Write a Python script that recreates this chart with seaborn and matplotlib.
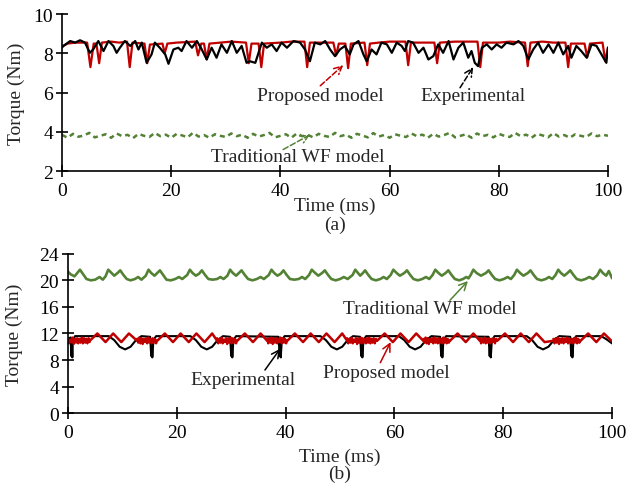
import numpy as np
import pandas as pd
import matplotlib
matplotlib.use("Agg")
import matplotlib.pyplot as plt
import seaborn as sns

# ---------------- (a) torque traces, time in ms, torque in Nm
exp_a_t = [0, 0.25, 1.5, 2.4, 3.3, 4.2, 5.1, 5.7, 6.65, 7.6,
           8.5, 9.4, 10.0, 10.6, 11.5, 12.5, 13.4, 14.0, 14.6, 15.5,
           16.4, 17.0, 17.9, 18.9, 19.5, 20.4, 21.3, 21.9, 22.8, 23.8,
           24.7, 25.6, 26.5, 27.4, 28.3, 29.2, 30.2, 31.1, 32.0, 32.9,
           33.8, 34.4,
           35.4, 36.6, 37.5, 38.4, 39.3, 40.2, 41.2, 42.4, 43.6, 44.5,
           45.4, 46.3, 47.3, 48.2, 49.1, 50.0, 50.9, 51.8, 52.7, 53.4,
           54.3, 55.2, 55.8, 56.7, 57.6, 58.5, 59.5, 60.4, 61.3, 62.2,
           62.8, 63.4, 64.3, 65.3, 66.2, 67.1,
           68.0, 68.9, 69.8, 70.8, 71.7, 72.6, 73.5, 74.4, 75.0, 75.6,
           76.2, 76.9, 77.8, 78.7, 79.6, 80.5, 81.4, 82.7, 83.6, 84.5,
           85.4, 86.3, 87.2, 88.1, 89.1, 90.0, 90.9, 91.8, 92.7, 93.3,
           94.2, 95.1, 96.1, 97.0, 97.9, 98.8, 99.7, 100]
exp_a_v = [8.3, 8.38, 8.63, 8.55, 8.67, 8.55, 8.03, 8.2, 8.63, 8.12,
           8.63, 8.38, 8.03, 8.29, 8.63, 8.38, 8.63, 8.2, 8.55, 7.52,
           7.95, 8.55, 8.29, 7.95, 7.47, 8.2, 8.29, 8.12, 8.63, 8.29,
           8.63, 8.2, 7.69, 8.29, 7.78, 8.46, 8.03, 8.63, 8.03, 8.38,
           7.52, 7.6,
           7.52, 8.55, 8.29, 8.46, 8.12, 8.55, 8.29, 8.63, 8.55, 8.2,
           7.6, 8.55, 8.46, 8.63, 8.2, 7.86, 8.2, 8.38, 7.95, 8.46,
           8.63, 7.95, 7.6, 8.2, 7.95, 8.55, 8.46, 8.03, 8.55, 8.38,
           8.12, 8.63, 8.55, 8.03, 8.29, 7.69,
           7.86, 8.46, 8.03, 8.63, 7.69, 8.29, 8.55, 7.78, 8.12, 7.52,
           7.35, 8.29, 8.46, 8.2, 8.46, 8.29, 8.55, 8.46, 8.63, 8.38,
           7.69, 8.2, 8.55, 8.03, 8.46, 8.03, 8.55, 7.95, 8.38, 7.78,
           8.38, 8.12, 7.78, 8.46, 8.38, 7.95, 7.52, 8.3]

prop_a_t = [0, 1.0, 2.5, 4.6, 5.2, 5.8, 6.3, 6.8, 7.3, 9.0,
            10.5, 11.9, 12.4, 12.9, 15.1, 15.6, 16.1, 18.4, 18.8, 19.3,
            21.0, 24.4, 24.9, 25.5, 26.0, 26.5, 27.0, 29.0, 31.0, 33.7,
            34.2, 34.7, 36.0, 36.5, 37.0, 40.0, 42.0, 44.4, 44.9, 45.4,
            48.0, 49.7, 50.2, 50.7, 51.9, 52.4, 52.9, 55.4, 55.9, 56.4,
            58.0, 60.0, 62.9, 63.4, 63.9, 66.0, 68.2, 68.7, 69.2, 72.0,
            76.1, 76.6, 77.1, 80.0, 82.0, 84.8, 85.3, 85.8, 88.0, 90.0,
            92.2, 92.7, 93.2, 95.7, 96.2, 96.7, 99.0, 99.5, 100]
prop_a_v = [8.35, 8.5, 8.55, 8.55, 7.3, 8.5, 8.5, 7.5, 8.55, 8.6,
            8.55, 8.6, 7.3, 8.55, 8.5, 7.5, 8.45, 8.5, 8.0, 8.5,
            8.55, 8.6, 7.9, 8.5, 8.5, 7.7, 8.5, 8.55, 8.6, 8.55,
            7.5, 8.5, 8.5, 7.3, 8.5, 8.55, 8.6, 8.6, 7.3, 8.55,
            8.55, 8.55, 7.9, 8.5, 8.5, 7.25, 8.5, 8.55, 7.4, 8.5,
            8.55, 8.6, 8.6, 7.4, 8.55, 8.55, 8.55, 7.5, 8.55, 8.6,
            8.6, 7.3, 8.55, 8.55, 8.6, 8.55, 7.35, 8.55, 8.6, 8.55,
            8.55, 7.3, 8.5, 8.5, 7.8, 8.5, 8.55, 7.6, 8.3]

# traditional WF model, one value per ms (0..100)
wf_a_v = [3.85, 3.7, 3.9, 3.75, 3.82, 3.95, 3.72, 3.8, 3.88, 3.7,
          3.92, 3.78, 3.85, 3.68, 3.9, 3.8, 3.74, 3.95, 3.78, 3.86,
          3.7, 3.9, 3.82, 3.72, 3.96, 3.76, 3.84, 3.7, 3.88, 3.8,
          3.74, 3.92, 3.78, 3.86, 3.7, 3.9, 3.76, 3.84, 3.95, 3.72,
          3.8, 3.88, 3.7, 3.92, 3.78, 3.85, 3.72, 3.9, 3.8, 3.74,
          3.95, 3.78, 3.86, 3.7, 3.9, 3.82, 3.72, 3.94, 3.76, 3.84,
          3.7, 3.88, 3.8, 3.74, 3.92, 3.78, 3.86, 3.7, 3.9, 3.76,
          3.84, 3.95, 3.72, 3.8, 3.88, 3.7, 3.92, 3.78, 3.85, 3.72,
          3.9, 3.8, 3.74, 3.95, 3.78, 3.86, 3.7, 3.9, 3.82, 3.72,
          3.94, 3.76, 3.84, 3.7, 3.88, 3.8, 3.74, 3.92, 3.78, 3.86, 3.8]
wf_a_t = np.arange(len(wf_a_v))

# ---------------- (b)
wf_b_t = [0, 0.5, 1.2, 2.2, 2.8, 3.4, 4.2, 5.0, 5.8, 6.4,
          6.9, 7.4, 7.9, 8.5, 9.1, 9.6, 10.2, 10.8, 11.5, 12.3, 12.9, 13.5, 14.3,
          14.8, 15.3, 15.9, 16.4, 16.9, 17.5, 18.1, 18.9, 19.7, 20.4, 21.0, 21.9,
          22.4, 22.9, 23.5, 24.1, 24.6, 25.2, 25.8, 26.6, 27.4, 28.0, 28.6, 29.3,
          29.8, 30.3, 30.9, 31.4, 31.9, 32.5, 33.1, 33.9, 34.7, 35.4, 36.0, 36.9,
          37.4, 37.9, 38.5, 39.1, 39.6, 40.2, 40.8, 41.6, 42.4, 43.0, 43.6, 44.3,
          44.8, 45.3, 46.0, 46.7, 47.2, 47.8, 48.4, 49.2, 50.0, 50.7, 51.4, 52.3,
          52.8, 53.3, 53.7, 54.2, 54.6, 55.2, 55.8, 56.6, 57.4, 58.0, 58.6, 59.3,
          59.8, 60.4, 61.0, 61.8, 62.3, 62.9, 63.5, 64.3, 65.1, 65.8, 66.4, 67.0,
          67.5, 68.1, 68.7, 69.4, 69.9, 70.5, 71.1, 71.9, 72.6, 73.2, 73.6, 74.0,
          74.5, 75.1, 75.9, 76.8, 77.3, 77.9, 78.5, 79.3, 80.1, 80.8, 81.4, 82.0,
          82.5, 83.1, 83.7, 84.5, 85.0, 85.6, 86.2, 87.0, 87.8, 88.4, 89.0, 89.6,
          90.1, 90.6, 91.2, 91.8, 92.3, 92.9, 93.5, 94.3, 95.1, 95.8, 96.5, 97.3,
          97.8, 98.3, 98.9, 99.4, 100]
wf_b_v = [21.3, 20.9, 20.6, 21.6, 20.9, 20.2, 20.0, 20.1, 20.5, 20.1,
          20.6, 21.6, 21.2, 20.7, 21.1, 21.5, 20.8, 20.2, 20.0, 20.2, 20.5, 20.1, 20.7,
          21.6, 21.1, 20.7, 21.1, 21.5, 20.8, 20.1, 20.0, 20.2, 20.5, 20.2, 20.8,
          21.6, 21.1, 20.7, 21.0, 21.5, 20.8, 20.2, 20.1, 20.2, 20.5, 20.2, 20.7,
          21.6, 21.1, 20.7, 21.1, 21.5, 20.8, 20.2, 20.0, 20.2, 20.5, 20.2, 20.8,
          21.6, 21.1, 20.7, 21.0, 21.5, 20.8, 20.2, 20.1, 20.2, 20.5, 20.2, 20.8,
          21.6, 21.2, 20.7, 21.1, 21.5, 20.8, 20.2, 20.0, 20.2, 20.5, 20.2, 20.8,
          21.6, 21.1, 20.7, 21.1, 21.5, 20.8, 20.2, 20.0, 20.2, 20.5, 20.2, 20.8,
          21.6, 21.1, 20.7, 21.1, 21.5, 20.8, 20.2, 20.0, 20.2, 20.5, 20.2, 20.8,
          21.6, 21.1, 20.7, 21.1, 21.5, 20.8, 20.2, 20.0, 20.2, 20.5, 20.3, 20.8,
          21.6, 21.1, 20.7, 21.1, 21.5, 20.8, 20.2, 20.0, 20.2, 20.5, 20.2, 20.8,
          21.6, 21.1, 20.7, 21.1, 21.5, 20.8, 20.2, 20.0, 20.2, 20.5, 20.2, 20.8,
          21.6, 21.1, 20.7, 21.1, 21.5, 20.8, 20.2, 20.0, 20.2, 20.5, 20.2, 20.8,
          21.6, 21.1, 20.7, 21.4, 20.3]

exp_b_t = [0, 0.5, 0.6, 0.7, 0.8, 0.9, 1.3,
           7.5, 8.5, 9.5, 10.5, 11.5, 12.5, 13.5,
           15.1, 15.3, 15.4, 15.5, 15.7, 16.2,
           22.5, 23.5, 24.5, 25.5, 26.5, 27.5, 28.5,
           29.8, 30.0, 30.1, 30.2, 30.4, 30.9,
           38.7, 38.9, 39.0, 39.1, 39.3, 39.8,
           46.4, 47.4, 48.4, 49.4, 50.4, 51.4, 52.4,
           53.7, 53.9, 54.0, 54.1, 54.3, 54.8,
           60.8, 61.8, 62.8, 63.8, 64.8, 65.8, 66.8,
           68.4, 68.6, 68.7, 68.8, 69.0, 69.5,
           77.3, 77.5, 77.6, 77.7, 77.9, 78.4,
           84.3, 85.3, 86.3, 87.3, 88.3, 89.3, 90.3,
           92.3, 92.5, 92.6, 92.7, 92.9, 93.4,
           98.0, 99.0, 100]
exp_b_v = [11.2, 11.4, 8.6, 10.5, 8.4, 11.0, 11.6,
           11.6, 11.0, 10.0, 9.6, 10.0, 11.0, 11.6,
           11.5, 8.6, 10.4, 8.4, 11.0, 11.6,
           11.6, 11.0, 10.0, 9.6, 10.0, 11.0, 11.6,
           11.5, 8.6, 10.4, 8.4, 11.0, 11.6,
           11.5, 8.6, 10.4, 8.4, 11.0, 11.6,
           11.6, 11.0, 10.0, 9.6, 10.0, 11.0, 11.6,
           11.5, 8.6, 10.4, 8.4, 11.0, 11.6,
           11.6, 11.0, 10.0, 9.6, 10.0, 11.0, 11.6,
           11.5, 8.6, 10.4, 8.4, 11.0, 11.6,
           11.5, 8.6, 10.4, 8.4, 11.0, 11.6,
           11.6, 11.0, 10.0, 9.6, 10.0, 11.0, 11.6,
           11.5, 8.6, 10.4, 8.4, 11.0, 11.6,
           11.6, 11.1, 10.5]

# proposed model (b): slow zig-zag plus high frequency bursts
prop_b_t = [0, 4.0, 5.4, 6.9, 8.3, 9.8, 11.2, 12.7,
            16.4, 17.8, 19.3, 20.7, 22.2, 23.6, 25.1, 26.5, 27.4,
            31.1, 32.5, 34.0, 35.4, 36.6,
            40.3, 41.7, 43.2, 44.6, 46.1, 47.5, 49.0, 50.4, 51.3,
            56.8, 58.2, 59.7, 61.1, 62.6, 64.0, 65.3,
            70.2, 71.6, 73.1, 74.5, 75.7,
            78.9, 80.3, 81.8, 83.2, 84.7, 86.1, 87.6, 89.2,
            94.2, 95.6, 97.1, 98.5, 100]
prop_b_v = [10.9, 10.9, 12.0, 10.7, 12.0, 10.7, 12.0, 10.9,
            10.9, 12.0, 10.7, 12.0, 10.7, 12.0, 10.7, 12.0, 10.9,
            10.9, 12.0, 10.7, 12.0, 10.9,
            10.9, 12.0, 10.7, 12.0, 10.7, 12.0, 10.7, 12.0, 10.9,
            10.9, 12.0, 10.7, 12.0, 10.7, 12.0, 10.9,
            10.9, 12.0, 10.7, 12.0, 10.9,
            10.9, 12.0, 10.7, 12.0, 10.7, 12.0, 10.7, 10.9,
            10.9, 12.0, 10.7, 12.0, 10.8]
burst_start = [0.0, 12.7, 27.4, 36.6, 51.3, 65.3, 75.7, 89.2]
burst_end = [4.0, 16.4, 31.1, 40.3, 56.8, 70.2, 78.9, 94.2]
burst_v = [
    [11.3, 10.5, 11.1, 10.7, 11.4, 10.4, 11.2, 10.6, 11.3, 10.5,
     11.2, 10.6, 11.4, 10.5, 11.3, 10.6, 11.2, 10.5, 11.3, 10.7],
    [11.2, 10.6, 11.4, 10.5, 11.3, 10.4, 11.2, 10.7, 11.3, 10.5,
     11.4, 10.6, 11.2, 10.5, 11.3, 10.6, 11.2, 10.5, 11.0],
    [11.3, 10.5, 11.2, 10.6, 11.4, 10.5, 11.1, 10.7, 11.3, 10.4,
     11.2, 10.6, 11.4, 10.5, 11.3, 10.6, 11.2, 10.5, 11.0],
    [11.2, 10.5, 11.3, 10.6, 11.4, 10.4, 11.2, 10.6, 11.3, 10.5,
     11.2, 10.7, 11.4, 10.5, 11.3, 10.6, 11.2, 10.5, 11.0],
    [11.3, 10.5, 11.2, 10.6, 11.4, 10.5, 11.1, 10.7, 11.3, 10.4,
     11.2, 10.6, 11.4, 10.5, 11.3, 10.6, 11.2, 10.5, 11.3, 10.6,
     11.4, 10.5, 11.2, 10.6, 11.3, 10.5, 11.2, 10.9],
    [11.2, 10.6, 11.4, 10.5, 11.3, 10.4, 11.2, 10.7, 11.3, 10.5,
     11.4, 10.6, 11.2, 10.5, 11.3, 10.6, 11.2, 10.5, 11.4, 10.6,
     11.3, 10.5, 11.2, 10.6, 11.0],
    [11.3, 10.5, 11.2, 10.6, 11.4, 10.5, 11.2, 10.6, 11.3, 10.5,
     11.2, 10.7, 11.3, 10.5, 11.2, 11.0],
    [11.2, 10.5, 11.3, 10.6, 11.4, 10.4, 11.2, 10.6, 11.3, 10.5,
     11.2, 10.7, 11.4, 10.5, 11.3, 10.6, 11.2, 10.5, 11.3, 10.6,
     11.4, 10.5, 11.2, 10.6, 11.0],
]

RED = "#c00000"
GREEN = "#548235"

sns.set_theme(style="white")
plt.rcParams['font.family'] = ['Liberation Serif', 'DejaVu Serif']

fig = plt.figure(figsize=(6.33, 4.89), dpi=100)
ax1 = fig.add_axes([0.098, 0.648, 0.8625, 0.321])
ax2 = fig.add_axes([0.1074, 0.153, 0.8596, 0.326])


def style_axis(ax, ylim, yticks, ypad):
    ax.set_xlim(0, 100)
    ax.set_ylim(*ylim)
    ax.set_xticks([0, 20, 40, 60, 80, 100])
    ax.set_yticks(yticks)
    for s in ["top", "right"]:
        ax.spines[s].set_visible(False)
    for s in ["left", "bottom"]:
        ax.spines[s].set_color("black")
        ax.spines[s].set_linewidth(1.2)
    ax.tick_params(direction="inout", length=9, width=1.2, colors="black",
                   labelsize=14, pad=2, bottom=True, left=True)
    ax.tick_params(axis="x", pad=3)
    ax.set_ylabel("Torque (Nm)", fontsize=14, labelpad=ypad)
    ax.grid(False)


def arrow(ax, head, tail, color, ls="-"):
    ax.annotate("", xy=head, xytext=tail,
                arrowprops=dict(arrowstyle="->", color=color, lw=1.1,
                                linestyle=ls, shrinkA=0, shrinkB=0,
                                mutation_scale=14))


# ---- panel (a)
sns.lineplot(x=wf_a_t, y=wf_a_v, ax=ax1, color=GREEN, lw=1.8,
             linestyle=(0, (2, 1.6)), estimator=None, sort=False)
sns.lineplot(x=prop_a_t, y=prop_a_v, ax=ax1, color=RED, lw=1.6,
             estimator=None, sort=False)
sns.lineplot(x=exp_a_t, y=exp_a_v, ax=ax1, color="black", lw=1.6,
             estimator=None, sort=False)
style_axis(ax1, (2, 10), [2, 4, 6, 8, 10], 6)
ax1.set_xlabel("")
ax1.text(0.5, -0.22, "Time (ms)", transform=ax1.transAxes, ha="center",
         va="center", fontsize=14)
ax1.text(0.5, -0.34, "(a)", transform=ax1.transAxes, ha="center",
         va="center", fontsize=14)

ax1.text(47.3, 5.85, "Proposed model", ha="center", va="center", fontsize=14)
arrow(ax1, (51.5, 7.4), (47.3, 6.35), RED, "--")
ax1.text(75.3, 5.85, "Experimental", ha="center", va="center", fontsize=14)
arrow(ax1, (75.3, 7.3), (72.9, 6.25), "black", "--")
ax1.text(43.2, 2.77, "Traditional WF model", ha="center", va="center", fontsize=14)
arrow(ax1, (45.4, 3.85), (40.5, 3.1), GREEN, "--")

# ---- panel (b)
sns.lineplot(x=wf_b_t, y=wf_b_v, ax=ax2, color=GREEN, lw=1.9,
             estimator=None, sort=False)
sns.lineplot(x=exp_b_t, y=exp_b_v, ax=ax2, color="black", lw=1.5,
             estimator=None, sort=False)
sns.lineplot(x=prop_b_t, y=prop_b_v, ax=ax2, color=RED, lw=1.8,
             estimator=None, sort=False)
for t0, t1, vals in zip(burst_start, burst_end, burst_v):
    sns.lineplot(x=np.linspace(t0, t1, len(vals)), y=vals, ax=ax2, color=RED,
                 lw=1.6, estimator=None, sort=False)
style_axis(ax2, (0, 24), [0, 4, 8, 12, 16, 20, 24], 12)
ax2.set_xlabel("")
ax2.text(0.5, -0.27, "Time (ms)", transform=ax2.transAxes, ha="center",
         va="center", fontsize=14)
ax2.text(0.5, -0.38, "(b)", transform=ax2.transAxes, ha="center",
         va="center", fontsize=14)

ax2.text(66.5, 15.7, "Traditional WF model", ha="center", va="center", fontsize=14)
arrow(ax2, (73.5, 19.9), (70.2, 17.0), GREEN)
ax2.text(32.2, 5.1, "Experimental", ha="center", va="center", fontsize=14)
arrow(ax2, (39.0, 9.7), (36.2, 6.5), "black")
ax2.text(58.5, 6.2, "Proposed model", ha="center", va="center", fontsize=14)
arrow(ax2, (59.3, 10.7), (57.4, 7.6), RED)

fig.savefig("out.png", dpi=100)
